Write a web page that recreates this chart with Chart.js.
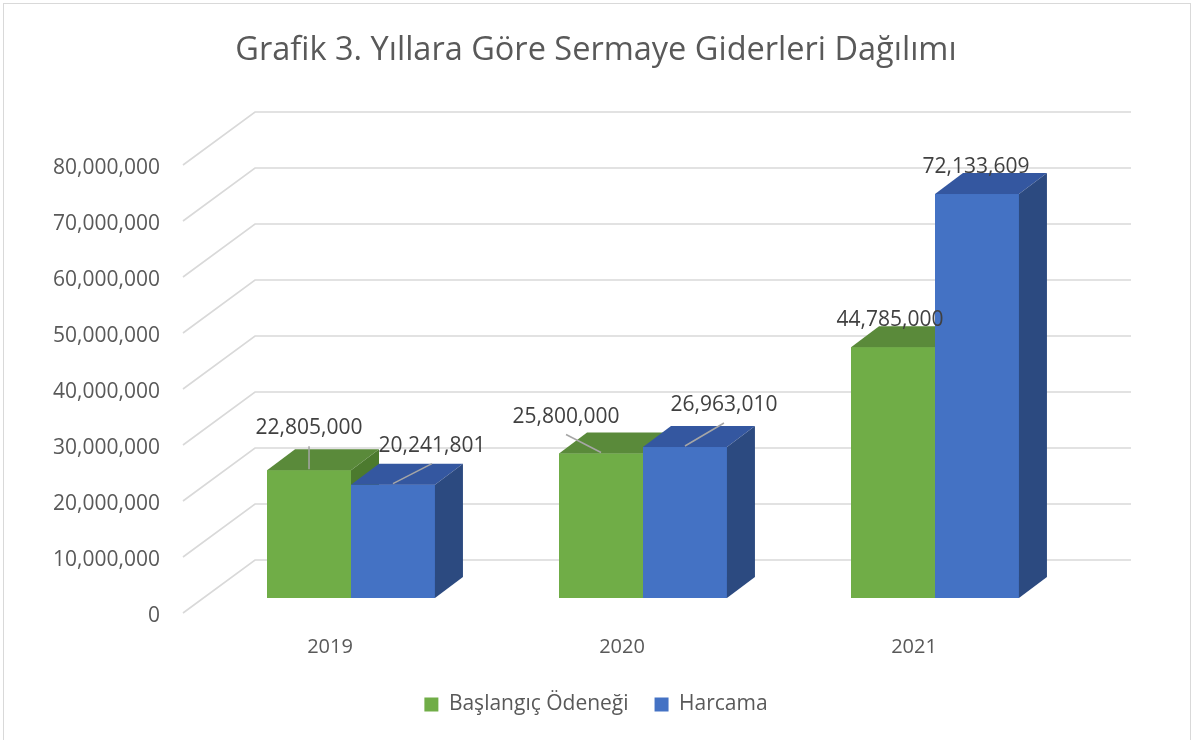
<!DOCTYPE html>
<html>
<head>
<meta charset="utf-8">
<script src="https://cdn.jsdelivr.net/npm/chart.js@4.4.1/dist/chart.umd.min.js"></script>
<style>
  body { margin: 0; background: #fff; }
  #marco { position: absolute; left: 3px; top: 3px; width: 1186px; height: 745px; border: 1px solid #d9d9d9; }
  #grafico { position: absolute; left: 0; top: 0; }
</style>
</head>
<body>
<div id="marco"></div>
<canvas id="grafico" width="1192" height="740"></canvas>
<script>
const yillar = ["2019", "2020", "2021"];
const baslangicOdenegi = [22805000, 25800000, 44785000];
const harcama = [20241801, 26963010, 72133609];
const eksenMax = 80000000;
const eksenAdim = 10000000;

// desplazamiento de cada etiqueta respecto al tope del frente de la barra, y si lleva linea guia
const etiquetaPos = [
  [[0, -42, true], [-35, -37, true], [-3, -27, false]],
  [[39, -39, true], [39, -42, true], [-1, -27, false]],
];

const colores = [
  { frente: "#70AD47", tapa: "#5A8A3A", lado: "#4C7A2E" },
  { frente: "#4472C4", tapa: "#3457A0", lado: "#2C4A80" },
];

const fuente = "'Open Sans', 'Noto Sans', sans-serif";
const fmt = (v) => v.toLocaleString("en-US");

// profundidad de las barras y de la pared del fondo
const PROF_X = 28, PROF_Y = -21;
const FRENTE_X = -22, FRENTE_Y = 15;
const FONDO_X = 50, FONDO_Y = -38;

const efecto3d = {
  id: "efecto3d",
  beforeDatasetsDraw(chart) {
    const ctx = chart.ctx;
    const y = chart.scales.y;
    const area = chart.chartArea;
    ctx.save();
    ctx.strokeStyle = "#d9d9d9";
    ctx.lineWidth = 1.6;
    for (let v = 0; v <= eksenMax; v += eksenAdim) {
      const py = y.getPixelForValue(v);
      ctx.beginPath();
      ctx.moveTo(area.left + FRENTE_X, py + FRENTE_Y);
      ctx.lineTo(area.left + FONDO_X, py + FONDO_Y);
      ctx.lineTo(area.right + FONDO_X, py + FONDO_Y);
      ctx.stroke();
    }
    ctx.restore();
  },
  afterDatasetsDraw(chart) {
    const ctx = chart.ctx;
    ctx.save();
    // caras de las barras: verde primero, azul encima
    chart.data.datasets.forEach((ds, i) => {
      const c = colores[i];
      chart.getDatasetMeta(i).data.forEach((bar) => {
        const l = bar.x - bar.width / 2;
        const r = bar.x + bar.width / 2;
        const t = bar.y;
        const b = bar.base;
        ctx.fillStyle = c.frente;
        ctx.fillRect(l, t, r - l, b - t);
        ctx.fillStyle = c.tapa;
        ctx.beginPath();
        ctx.moveTo(l, t);
        ctx.lineTo(r, t);
        ctx.lineTo(r + PROF_X, t + PROF_Y);
        ctx.lineTo(l + PROF_X, t + PROF_Y);
        ctx.closePath();
        ctx.fill();
        ctx.fillStyle = c.lado;
        ctx.beginPath();
        ctx.moveTo(r, t);
        ctx.lineTo(r + PROF_X, t + PROF_Y);
        ctx.lineTo(r + PROF_X, b + PROF_Y);
        ctx.lineTo(r, b);
        ctx.closePath();
        ctx.fill();
      });
    });

    // ETIQUETAS
    ctx.font = "21px " + fuente;
    ctx.textAlign = "center";
    ctx.textBaseline = "middle";
    chart.data.datasets.forEach((ds, i) => {
      chart.getDatasetMeta(i).data.forEach((bar, j) => {
        const [dx, dy, guia] = etiquetaPos[i][j];
        const lx = bar.x + dx;
        const ly = bar.y + dy;
        if (guia) {
          ctx.strokeStyle = "#a6a6a6";
          ctx.lineWidth = 1.5;
          ctx.beginPath();
          ctx.moveTo(lx, ly + 18);
          ctx.lineTo(bar.x, bar.y - 1);
          ctx.stroke();
        }
        ctx.fillStyle = "#404040";
        ctx.fillText(fmt(ds.data[j]), lx, ly);
      });
    });
    ctx.restore();
  },
};

new Chart(document.getElementById("grafico"), {
  type: "bar",
  data: {
    labels: yillar,
    datasets: [
      { label: "Başlangıç Ödeneği", data: baslangicOdenegi, backgroundColor: colores[0].frente, borderWidth: 0 },
      { label: "Harcama", data: harcama, backgroundColor: colores[1].frente, borderWidth: 0 },
    ],
  },
  options: {
    responsive: false,
    animation: false,
    layout: { padding: { left: 0, right: 0, top: 0, bottom: 15 } },
    datasets: { bar: { categoryPercentage: 0.575, barPercentage: 1 } },
    scales: {
      x: {
        grid: { display: false, drawTicks: false },
        border: { display: false },
        ticks: { color: "#595959", font: { family: fuente, size: 20 }, padding: 37, labelOffset: -21 },
        afterFit: (s) => { s.height = 70; },
      },
      y: {
        min: 0,
        max: eksenMax,
        grid: { display: false, drawTicks: false },
        border: { display: false },
        ticks: {
          stepSize: eksenAdim,
          color: "#595959",
          font: { family: fuente, size: 21 },
          padding: 45,
          labelOffset: 18,
          callback: (v) => fmt(v),
        },
        afterFit: (s) => { s.width = 205; },
      },
      // eje vacio a la derecha para dejar el margen y mantener centrado el titulo
      derecha: {
        position: "right",
        grid: { display: false, drawTicks: false },
        border: { display: false },
        ticks: { display: false },
        afterFit: (s) => { s.width = 111; },
      },
    },
    plugins: {
      title: {
        display: true,
        text: "Grafik 3. Yıllara Göre Sermaye Giderleri Dağılımı",
        color: "#595959",
        font: { family: fuente, size: 32.5, weight: "normal" },
        padding: { top: 31, bottom: 80 },
      },
      legend: {
        position: "bottom",
        labels: {
          color: "#595959",
          font: { family: fuente, size: 21 },
          boxWidth: 14,
          boxHeight: 14,
          padding: 26,
        },
      },
      tooltip: { enabled: false },
    },
  },
  plugins: [efecto3d],
});
</script>
</body>
</html>
